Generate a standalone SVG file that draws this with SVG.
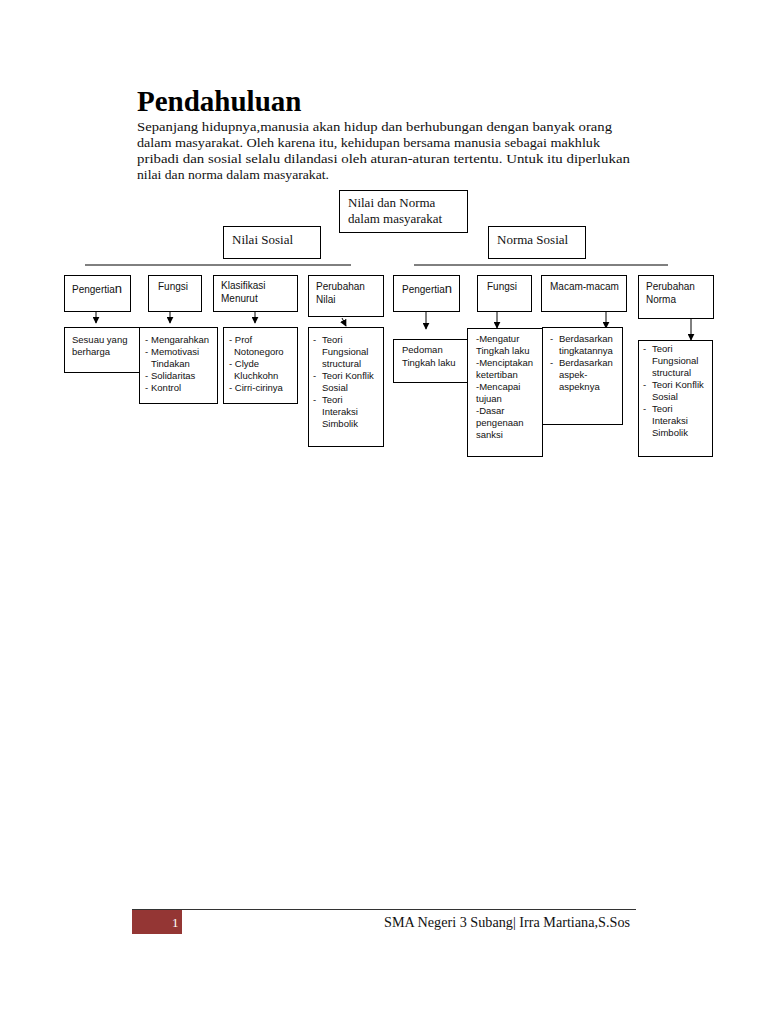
<svg xmlns="http://www.w3.org/2000/svg" width="768" height="1024" viewBox="0 0 768 1024">
<defs>
<style>
.box{fill:#fff;stroke:#000;stroke-width:1}
.ser{font-family:"Liberation Serif",serif;fill:#111}
.san{font-family:"Liberation Sans",Arial,sans-serif;font-size:9.5px;fill:#111}
.lbl{font-family:"Liberation Sans",Arial,sans-serif;font-size:10px;fill:#111}
.ln{stroke:#000;stroke-width:1;fill:none}
</style>
<marker id="ah" viewBox="0 0 10 10" refX="9" refY="5" markerWidth="7" markerHeight="7" orient="auto" markerUnits="userSpaceOnUse">
<path d="M0,0 L10,5 L0,10 z" fill="#000"/>
</marker>
</defs>
<rect width="768" height="1024" fill="#fff"/>

<g id="header">
<text class="ser" x="137" y="111" font-size="29" font-weight="bold" style="fill:#000">Pendahuluan</text>
<text class="ser" font-size="13.5">
<tspan x="137" y="131" textLength="475" lengthAdjust="spacingAndGlyphs">Sepanjang hidupnya,manusia akan hidup dan berhubungan dengan banyak orang</tspan>
<tspan x="137" y="147" textLength="463" lengthAdjust="spacingAndGlyphs">dalam masyarakat. Oleh karena itu, kehidupan bersama manusia sebagai makhluk</tspan>
<tspan x="137" y="163" textLength="493" lengthAdjust="spacingAndGlyphs">pribadi dan sosial selalu dilandasi oleh aturan-aturan tertentu. Untuk itu diperlukan</tspan>
<tspan x="137" y="179" textLength="192" lengthAdjust="spacingAndGlyphs">nilai dan norma dalam masyarakat.</tspan>
</text>
</g>

<g id="connectors">
<line class="ln" x1="85" y1="265" x2="351" y2="265"/>
<line class="ln" x1="414" y1="265" x2="668" y2="265"/>
<line class="ln" x1="96" y1="311" x2="96" y2="323" marker-end="url(#ah)"/>
<line class="ln" x1="170" y1="311" x2="170" y2="323" marker-end="url(#ah)"/>
<line class="ln" x1="255" y1="304" x2="255" y2="323" marker-end="url(#ah)"/>
<line class="ln" x1="342" y1="318" x2="346" y2="326" marker-end="url(#ah)"/>
<line class="ln" x1="426" y1="311" x2="426" y2="329" marker-end="url(#ah)"/>
<line class="ln" x1="497" y1="311" x2="497" y2="328" marker-end="url(#ah)"/>
<line class="ln" x1="606" y1="311" x2="606" y2="328" marker-end="url(#ah)"/>
<line class="ln" x1="691" y1="318" x2="691" y2="340" marker-end="url(#ah)"/>
</g>

<g id="root">
<rect class="box" x="339.5" y="190.5" width="128" height="42"/>
<text class="ser" font-size="13"><tspan x="348" y="207">Nilai dan Norma</tspan><tspan x="348" y="223">dalam masyarakat</tspan></text>
</g>
<g id="nilai-sosial">
<rect class="box" x="223.5" y="226.5" width="97" height="32"/>
<text class="ser" x="232" y="244" font-size="13">Nilai Sosial</text>
</g>
<g id="norma-sosial">
<rect class="box" x="488.5" y="226.5" width="97" height="32"/>
<text class="ser" x="497" y="244" font-size="13">Norma Sosial</text>
</g>

<g id="pengertian-nilai">
<rect class="box" x="64.5" y="275.5" width="66" height="36"/>
<text class="lbl" x="72" y="293">Pengertia<tspan font-size="13">n</tspan></text>
</g>
<g id="fungsi-nilai">
<rect class="box" x="148.5" y="275.5" width="53" height="36"/>
<text class="lbl" x="158" y="290">Fungsi</text>
</g>
<g id="klasifikasi">
<rect class="box" x="213.5" y="275.5" width="84" height="36"/>
<text class="lbl"><tspan x="221" y="289">Klasifikasi</tspan><tspan x="221" y="302">Menurut</tspan></text>
</g>
<g id="perubahan-nilai">
<rect class="box" x="308.5" y="275.5" width="75" height="41"/>
<text class="lbl"><tspan x="316" y="290">Perubahan</tspan><tspan x="316" y="303">Nilai</tspan></text>
</g>
<g id="pengertian-norma">
<rect class="box" x="393.5" y="275.5" width="66" height="36"/>
<text class="lbl" x="402" y="293">Pengertia<tspan font-size="13">n</tspan></text>
</g>
<g id="fungsi-norma">
<rect class="box" x="477.5" y="275.5" width="54" height="36"/>
<text class="lbl" x="487" y="290">Fungsi</text>
</g>
<g id="macam-macam">
<rect class="box" x="541.5" y="275.5" width="85" height="36"/>
<text class="lbl" x="550" y="290">Macam-macam</text>
</g>
<g id="perubahan-norma">
<rect class="box" x="638.5" y="275.5" width="75" height="43"/>
<text class="lbl"><tspan x="646" y="290">Perubahan</tspan><tspan x="646" y="303">Norma</tspan></text>
</g>

<g id="sesuau">
<rect class="box" x="64.5" y="327.5" width="76" height="45"/>
<text class="san"><tspan x="72" y="343">Sesuau yang</tspan><tspan x="72" y="355">berharga</tspan></text>
</g>
<g id="fungsi-nilai-list">
<rect class="box" x="139.5" y="327.5" width="78" height="76"/>
<text class="san">
<tspan x="145" y="343">-</tspan><tspan x="151" y="343">Mengarahkan</tspan>
<tspan x="145" y="355">-</tspan><tspan x="151" y="355">Memotivasi</tspan>
<tspan x="151" y="367">Tindakan</tspan>
<tspan x="145" y="379">-</tspan><tspan x="151" y="379">Solidaritas</tspan>
<tspan x="145" y="391">-</tspan><tspan x="151" y="391">Kontrol</tspan>
</text>
</g>
<g id="klasifikasi-list">
<rect class="box" x="223.5" y="327.5" width="74" height="76"/>
<text class="san">
<tspan x="229" y="343">- Prof</tspan>
<tspan x="234" y="355">Notonegoro</tspan>
<tspan x="229" y="367">- Clyde</tspan>
<tspan x="234" y="379">Kluchkohn</tspan>
<tspan x="229" y="391">- Cirri-cirinya</tspan>
</text>
</g>
<g id="teori-nilai">
<rect class="box" x="308.5" y="327.5" width="75" height="119"/>
<text class="san">
<tspan x="313" y="343">-</tspan><tspan x="322" y="343">Teori</tspan>
<tspan x="322" y="355">Fungsional</tspan>
<tspan x="322" y="367">structural</tspan>
<tspan x="313" y="379">-</tspan><tspan x="322" y="379">Teori Konflik</tspan>
<tspan x="322" y="391">Sosial</tspan>
<tspan x="313" y="403">-</tspan><tspan x="322" y="403">Teori</tspan>
<tspan x="322" y="415">Interaksi</tspan>
<tspan x="322" y="427">Simbolik</tspan>
</text>
</g>
<g id="pedoman">
<rect class="box" x="393.5" y="339.5" width="75" height="43"/>
<text class="san"><tspan x="402" y="353">Pedoman</tspan><tspan x="402" y="366">Tingkah laku</tspan></text>
</g>
<g id="fungsi-norma-list">
<rect class="box" x="467.5" y="328.5" width="75" height="128"/>
<text class="san">
<tspan x="476" y="342">-Mengatur</tspan>
<tspan x="476" y="354">Tingkah laku</tspan>
<tspan x="476" y="366">-Menciptakan</tspan>
<tspan x="476" y="378">ketertiban</tspan>
<tspan x="476" y="390">-Mencapai</tspan>
<tspan x="476" y="402">tujuan</tspan>
<tspan x="476" y="414">-Dasar</tspan>
<tspan x="476" y="426">pengenaan</tspan>
<tspan x="476" y="438">sanksi</tspan>
</text>
</g>
<g id="macam-list">
<rect class="box" x="542.5" y="327.5" width="80" height="97"/>
<text class="san">
<tspan x="550" y="342">-</tspan><tspan x="559" y="342">Berdasarkan</tspan>
<tspan x="559" y="354">tingkatannya</tspan>
<tspan x="550" y="366">-</tspan><tspan x="559" y="366">Berdasarkan</tspan>
<tspan x="559" y="378">aspek-</tspan>
<tspan x="559" y="390">aspeknya</tspan>
</text>
</g>
<g id="teori-norma">
<rect class="box" x="638.5" y="340.5" width="74" height="116"/>
<text class="san">
<tspan x="643" y="352">-</tspan><tspan x="652" y="352">Teori</tspan>
<tspan x="652" y="364">Fungsional</tspan>
<tspan x="652" y="376">structural</tspan>
<tspan x="643" y="388">-</tspan><tspan x="652" y="388">Teori Konflik</tspan>
<tspan x="652" y="400">Sosial</tspan>
<tspan x="643" y="412">-</tspan><tspan x="652" y="412">Teori</tspan>
<tspan x="652" y="424">Interaksi</tspan>
<tspan x="652" y="436">Simbolik</tspan>
</text>
</g>

<g id="footer">
<line x1="132" y1="909.5" x2="636" y2="909.5" stroke="#333" stroke-width="1"/>
<rect x="132" y="910" width="50" height="24" fill="#943634"/>
<text class="ser" x="172" y="927" font-size="13" style="fill:#fff">1</text>
<text class="ser" x="384" y="927" font-size="14" textLength="246" lengthAdjust="spacingAndGlyphs">SMA Negeri 3 Subang| Irra Martiana,S.Sos</text>
</g>
</svg>
